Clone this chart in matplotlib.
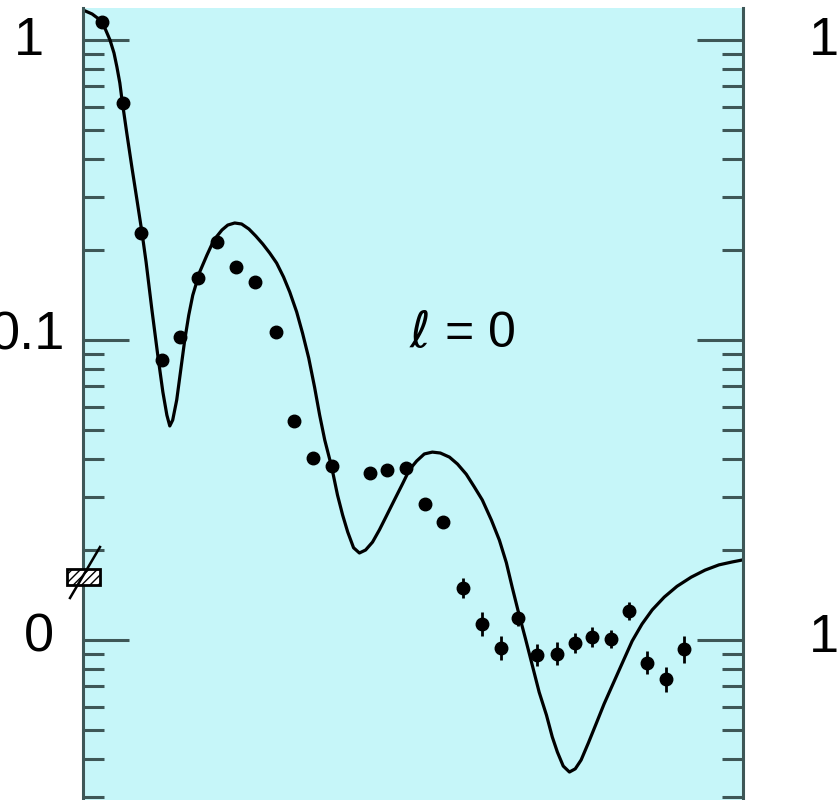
import matplotlib
matplotlib.use("Agg")
import matplotlib.pyplot as plt
from matplotlib.patches import Rectangle
from matplotlib.lines import Line2D
from matplotlib.ticker import LogLocator, NullFormatter

# measured angular distribution (deg, ratio) with relative errors
theta_exp = [5.2, 11.0, 15.9, 21.6, 26.6, 31.5, 36.7, 41.9, 47.1, 52.8,
             57.8, 63.0, 68.2, 78.6, 83.5, 88.7, 93.9, 98.8, 104.3, 109.3,
             114.7, 119.4, 124.6, 130.1, 135.0, 139.6, 144.8, 149.8, 154.7,
             159.9, 164.8]
ratio_exp = [1.148, 0.617, 0.227, 0.0858, 0.1023, 0.161, 0.212, 0.175, 0.156,
             0.1063, 0.0537, 0.0404, 0.0380, 0.0360, 0.0369, 0.0375, 0.0284,
             0.0247, 0.0149, 0.0113, 0.0094, 0.0118, 0.0089, 0.0090, 0.0098,
             0.0102, 0.0101, 0.0125, 0.0084, 0.0074, 0.0093]
rel_err = [0.03] * 18 + [0.08, 0.10, 0.10, 0.06, 0.09, 0.09, 0.08, 0.08,
                         0.07, 0.07, 0.09, 0.10, 0.11]

# calculated curve
theta_calc = [0.0, 2.5, 4.7, 6.0, 7.4, 8.5, 9.3, 10.1, 10.7, 12.0, 13.4, 14.8,
              16.2, 17.3, 18.9, 20.5, 21.9, 23.0, 23.8, 24.6, 25.7, 26.8,
              27.9, 29.0, 30.1, 32.0, 34.0, 35.9, 38.1, 39.7, 41.6, 43.5,
              45.5, 47.4, 49.3, 51.2, 53.1, 55.0, 56.7, 58.6, 60.2, 61.9,
              63.5, 64.9, 66.3, 68.2, 69.8, 71.2, 72.6, 74.2, 75.8, 77.5,
              79.4, 81.3, 83.2, 85.4, 87.6, 89.5, 91.5, 93.6, 95.8, 98.0,
              100.5, 102.7, 105.1, 107.3, 109.5, 112.0, 114.2, 116.1, 117.7,
              119.4, 121.3, 123.2, 125.1, 127.1, 128.7, 130.1, 131.7, 133.4,
              135.0, 136.6, 138.6, 140.7, 142.9, 145.1, 147.9, 150.6, 153.3,
              156.1, 159.4, 162.9, 166.8, 170.6, 174.4, 178.0, 181.0]
ratio_calc = [1.259, 1.221, 1.166, 1.096, 1.0, 0.905, 0.813, 0.719, 0.631,
              0.490, 0.377, 0.293, 0.227, 0.182, 0.126, 0.0891, 0.0671,
              0.0562, 0.0517, 0.0541, 0.0631, 0.0794, 0.1, 0.121, 0.141,
              0.1685, 0.192, 0.2154, 0.2326, 0.2416, 0.2455, 0.2436, 0.2344,
              0.222, 0.2089, 0.195, 0.1805, 0.1622, 0.1445, 0.124, 0.1055,
              0.0871, 0.0697, 0.0562, 0.0464, 0.0377, 0.0304, 0.0261, 0.0229,
              0.0203, 0.0195, 0.01995, 0.0212, 0.0233, 0.0259, 0.0293, 0.0331,
              0.0369, 0.0395, 0.0417, 0.0423, 0.042, 0.0407, 0.0386, 0.0357,
              0.0324, 0.0293, 0.0251, 0.0215, 0.0181, 0.0150, 0.0124, 0.01015,
              0.00825, 0.0067, 0.00562, 0.00475, 0.00423, 0.0038, 0.00363,
              0.00372, 0.00398, 0.00454, 0.00525, 0.00612, 0.00703, 0.00838,
              0.00992, 0.0113, 0.0126, 0.0139, 0.0151, 0.0162, 0.0171, 0.0178,
              0.0182, 0.0185]

W, H = 838, 800
bg = "#c6f6f9"
axcol = "#3e5757"

plt.rcParams["font.family"] = ["Liberation Sans", "DejaVu Sans"]
fig = plt.figure(figsize=(W / 100, H / 100), dpi=100)
ax = fig.add_axes([83 / W, 0.0, 660 / W, 792 / H])
ax.set_facecolor(bg)

ax.plot(theta_calc, ratio_calc, color="black", lw=2.3, zorder=2,
        solid_joinstyle="round")
lo = [r - r / (1 + e) for r, e in zip(ratio_exp, rel_err)]
hi = [r * e for r, e in zip(ratio_exp, rel_err)]
ax.errorbar(theta_exp, ratio_exp, yerr=[lo, hi], fmt="o", color="black",
            ms=9, elinewidth=2, capsize=0, zorder=3)

ax.set_yscale("log")
ax.set_xlim(0, 181)
ax.set_ylim(10 ** (-760 / 300), 10 ** (32 / 300))
ax.yaxis.set_major_locator(LogLocator(base=10, numticks=10))
ax.yaxis.set_minor_locator(LogLocator(base=10, subs=range(2, 10), numticks=20))
ax.yaxis.set_major_formatter(NullFormatter())
ax.yaxis.set_minor_formatter(NullFormatter())
ax.tick_params(axis="y", which="major", direction="in", left=True, right=True,
               length=33, width=2.2, color=axcol)
ax.tick_params(axis="y", which="minor", direction="in", left=True, right=True,
               length=15, width=2.2, color=axcol)
ax.set_xticks([])
for side in ("top", "bottom"):
    ax.spines[side].set_visible(False)
for side in ("left", "right"):
    ax.spines[side].set_color(axcol)
    ax.spines[side].set_linewidth(2.2)

ax.text(0.575, 0.588, r"$\ell$ = 0", transform=ax.transAxes, fontsize=36,
        ha="center", va="center")

# tick labels (partly cut at figure edges)
fs = 39
fig.text(44 / W, 1 - 41 / H, "1", fontsize=fs, ha="right", va="center")
fig.text(65 / W, 1 - 336 / H, "0.1", fontsize=fs, ha="right", va="center")
fig.text(54 / W, 1 - 638 / H, "0", fontsize=fs, ha="right", va="center")
fig.text(809 / W, 1 - 41 / H, "1", fontsize=fs, ha="left", va="center")
fig.text(809 / W, 1 - 638 / H, "1", fontsize=fs, ha="left", va="center")

# axis break mark
fig.add_artist(Rectangle((67 / W, 1 - 585 / H), 33 / W, 16 / H,
                         transform=fig.transFigure, facecolor="white",
                         edgecolor="black", lw=2, hatch="////", zorder=5))
fig.add_artist(Line2D([70 / W, 100 / W], [1 - 598 / H, 1 - 547 / H],
                      transform=fig.transFigure, color="black", lw=1.8,
                      zorder=6))

fig.savefig("out.png", dpi=100, facecolor="white")
